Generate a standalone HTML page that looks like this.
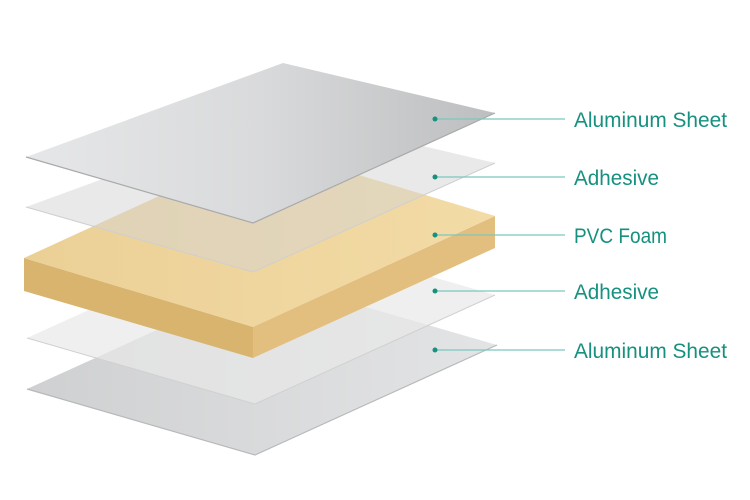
<!DOCTYPE html>
<html><head><meta charset="utf-8"><style>html,body{margin:0;padding:0;background:#fff}svg{display:block}</style></head>
<body>
<svg width="750" height="500" viewBox="0 0 750 500" xmlns="http://www.w3.org/2000/svg">
<defs>
<linearGradient id="al" x1="0" y1="0" x2="1" y2="0">
<stop offset="0" stop-color="#e6e7e8"/><stop offset="0.5" stop-color="#d9dadb"/><stop offset="1" stop-color="#bdbebf"/>
</linearGradient>
<linearGradient id="al2" x1="0" y1="0" x2="1" y2="0">
<stop offset="0" stop-color="#cfd0d1"/><stop offset="1" stop-color="#e3e4e5"/>
</linearGradient>
<linearGradient id="ft" x1="0" y1="0" x2="1" y2="0">
<stop offset="0" stop-color="#ebd096"/><stop offset="1" stop-color="#f3dba6"/>
</linearGradient>
</defs>
<polygon points="27,389 269,279 497,345 255,455" fill="url(#al2)"/>
<polyline points="27,389 255,455 497,345" fill="none" stroke="#b8b9ba" stroke-width="1.2"/>
<polygon points="27,338 267,229 495,295 255,404" fill="#e8e8e8" fill-opacity="0.7"/>
<polyline points="27,338 255,404 495,295" fill="none" stroke="#d0d0d0" stroke-width="1"/>
<polygon points="24,258 253,327 253,358 24,291" fill="#d8b46e"/>
<polygon points="253,327 495,216 495,248 253,358" fill="#e2bf7e"/>
<polygon points="24,258 266,147 495,216 253,327" fill="url(#ft)"/>
<polygon points="26,207 283,113 495,163 253,272" fill="#d4d4d4" fill-opacity="0.5"/>
<polyline points="26,207 253,272 495,163" fill="none" stroke="#cfcfcf" stroke-width="1"/>
<polygon points="26,157 283,63 495,113 253,223" fill="url(#al)"/>
<polyline points="26,157 253,223 495,113" fill="none" stroke="#a9aaab" stroke-width="1.2"/>
<g stroke="#7cc8bf" stroke-width="1.3">
<line x1="435" y1="119" x2="565" y2="119"/>
<line x1="435" y1="177" x2="565" y2="177"/>
<line x1="435" y1="235" x2="565" y2="235"/>
<line x1="435" y1="291" x2="565" y2="291"/>
<line x1="435" y1="350" x2="565" y2="350"/>
</g>
<g fill="#16917f">
<circle cx="435" cy="119" r="2.5"/><circle cx="435" cy="177" r="2.5"/><circle cx="435" cy="235" r="2.5"/><circle cx="435" cy="291" r="2.5"/><circle cx="435" cy="350" r="2.5"/>
</g>
<g fill="#16917f" font-family="Liberation Sans, sans-serif" font-size="21">
<text x="574" y="127" textLength="153" lengthAdjust="spacingAndGlyphs">Aluminum Sheet</text>
<text x="574" y="185" textLength="85" lengthAdjust="spacingAndGlyphs">Adhesive</text>
<text x="574" y="243" textLength="93" lengthAdjust="spacingAndGlyphs">PVC Foam</text>
<text x="574" y="299" textLength="85" lengthAdjust="spacingAndGlyphs">Adhesive</text>
<text x="574" y="358" textLength="153" lengthAdjust="spacingAndGlyphs">Aluminum Sheet</text>
</g>
</svg>
</body></html>
